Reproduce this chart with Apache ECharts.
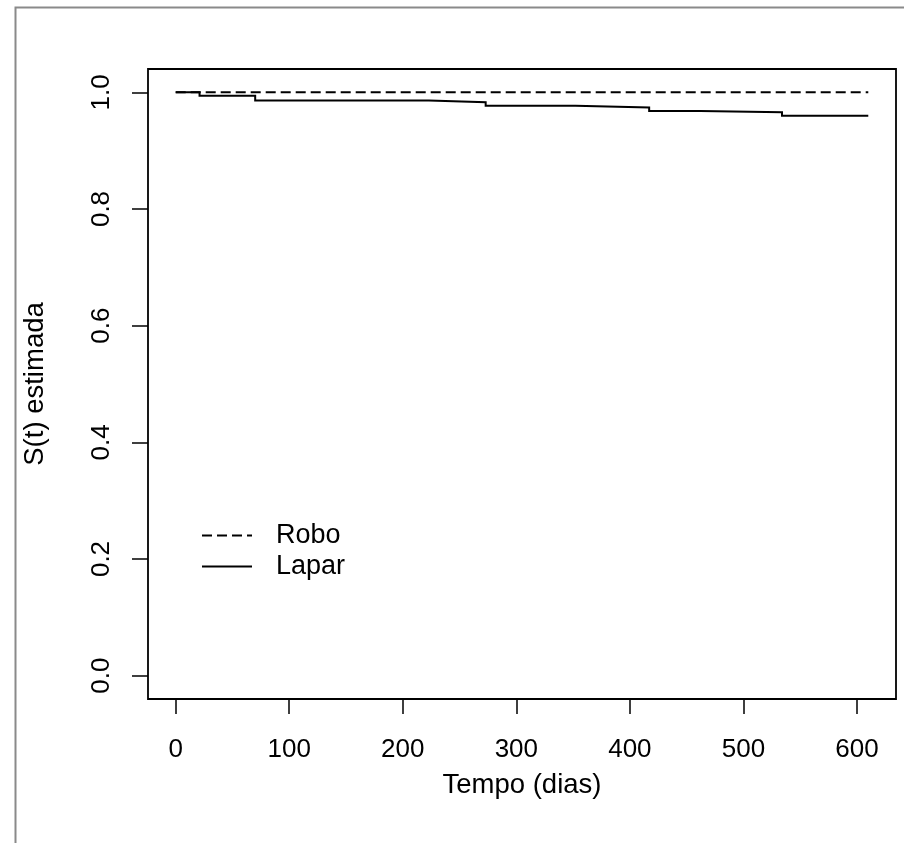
<!DOCTYPE html>
<html>
<head>
<meta charset="utf-8">
<script src="https://cdn.jsdelivr.net/npm/echarts@6/dist/echarts.min.js"></script>
<style>html,body{margin:0;padding:0;background:#fff;}#c{width:904px;height:843px;}</style>
</head>
<body>
<div id="c"></div>
<script>
// Data
const roboTimes = [0, 610];
const roboSurv = [1.0, 1.0];
const laparTimes = [0, 21, 70, 223, 273, 352, 417, 462, 534, 610];
const laparSurv = [1.0, 0.994, 0.986, 0.983, 0.977, 0.974, 0.968, 0.966, 0.960, 0.960];
const xTicks = [0, 100, 200, 300, 400, 500, 600];
const yTicks = [0.0, 0.2, 0.4, 0.6, 0.8, 1.0];
const seriesNames = ['Robo', 'Lapar'];
const xTitle = 'Tempo (dias)';
const yTitle = 'S(t) estimada';

const FONT = '"Liberation Sans", Arial, sans-serif';
const FS = 26;
const FS_T = 27.5;
const chart = echarts.init(document.getElementById('c'), null, {renderer: 'canvas'});

// Kaplan-Meier step path: value holds until the next event time, then drops
function kmSteps(ts, ss) {
  const out = [[ts[0], ss[0]]];
  for (let i = 1; i < ts.length; i++) {
    out.push([ts[i], ss[i - 1]]);
    out.push([ts[i], ss[i]]);
  }
  return out;
}

chart.setOption({
  backgroundColor: '#fff',
  animation: false,
  graphic: [{
    type: 'polyline',
    shape: {points: [[15.5, 843], [15.5, 7.5], [904, 7.5]]},
    style: {stroke: '#8a8a8a', lineWidth: 2, fill: null},
    silent: true
  }],
  grid: {
    left: 148, top: 69, width: 748, height: 630,
    show: true, borderColor: '#000', borderWidth: 1.8, backgroundColor: 'transparent'
  },
  legend: {
    orient: 'vertical',
    left: 196, top: 517,
    itemWidth: 50, itemHeight: 26, itemGap: 4,
    selectedMode: false,
    data: seriesNames,
    itemStyle: {opacity: 0},
    textStyle: {fontFamily: FONT, fontSize: 27, color: '#000', padding: [0, 0, 0, 19]}
  },
  xAxis: {
    type: 'value', min: -24.4, max: 634.4,
    name: xTitle, nameLocation: 'middle', nameGap: 72,
    nameTextStyle: {fontFamily: FONT, fontSize: FS_T, color: '#000'},
    axisLine: {show: false, onZero: false},
    splitLine: {show: false},
    axisTick: {show: true, length: 15, inside: false, customValues: xTicks, lineStyle: {color: '#000', width: 1.5}},
    axisLabel: {customValues: xTicks, margin: 38, fontFamily: FONT, fontSize: FS, color: '#000'}
  },
  yAxis: {
    type: 'value', min: -0.04, max: 1.04,
    name: yTitle, nameLocation: 'middle', nameGap: 99,
    nameTextStyle: {fontFamily: FONT, fontSize: FS_T, color: '#000'},
    axisLine: {show: false, onZero: false},
    splitLine: {show: false},
    axisTick: {show: true, length: 16, inside: false, customValues: yTicks, lineStyle: {color: '#000', width: 1.5}},
    axisLabel: {customValues: yTicks, rotate: 90, margin: 33, fontFamily: FONT, fontSize: FS, color: '#000',
      formatter: v => v.toFixed(1)}
  },
  series: [
    {
      name: seriesNames[0], type: 'line', symbol: 'none',
      data: kmSteps(roboTimes, roboSurv),
      lineStyle: {color: '#000', width: 2, type: [10, 5]},
      itemStyle: {color: '#000'}
    },
    {
      name: seriesNames[1], type: 'line', symbol: 'none',
      data: kmSteps(laparTimes, laparSurv),
      lineStyle: {color: '#000', width: 2, type: 'solid', join: 'miter', cap: 'butt'},
      itemStyle: {color: '#000'}
    }
  ]
});
</script>
</body>
</html>
